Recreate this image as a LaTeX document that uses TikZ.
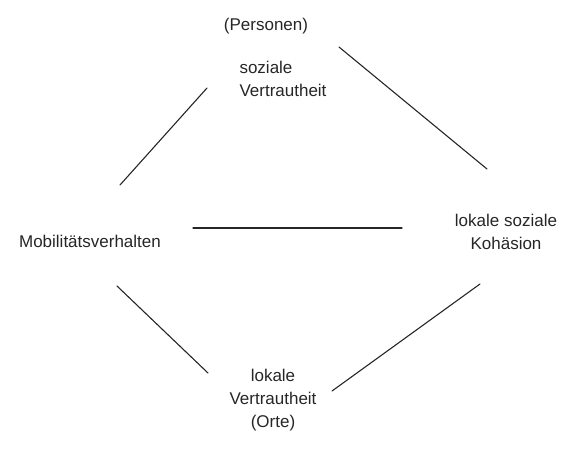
\documentclass[tikz,border=0pt]{standalone}
\usepackage{fontspec}
\setmainfont{Liberation Sans}
\begin{document}
\begin{tikzpicture}[x=1pt,y=-1pt,
  concept/.style={align=center,inner sep=0pt,font=\fontsize{17}{23}\selectfont,text=black!85},
  link/.style={line width=1.1pt,black!85,line cap=round}]
\useasboundingbox (0,0) rectangle (576,448);
% concepts
\node[concept] (pers) at (266,26) {(Personen)};
\node[concept,align=left] (soz) at (283,79) {soziale\\Vertrautheit};
\node[concept] (mob) at (90,241) {Mobilitätsverhalten};
\node[concept] (koh) at (506,232) {lokale soziale\\Kohäsion};
\node[concept] (lok) at (273,400) {lokale\\Vertrautheit\\(Orte)};
% connector end points
\coordinate (a1) at (120,185); \coordinate (a2) at (207,88);
\coordinate (b1) at (339,47);  \coordinate (b2) at (487,169);
\coordinate (c1) at (193,228); \coordinate (c2) at (402,228);
\coordinate (d1) at (117,286); \coordinate (d2) at (208,373);
\coordinate (e1) at (332,391); \coordinate (e2) at (480,284);
% connectors
\draw[link] (a1) -- (a2);
\draw[link] (b1) -- (b2);
\draw[link] (c1) -- (c2);
\draw[link] (d1) -- (d2);
\draw[link] (e1) -- (e2);
\end{tikzpicture}
\end{document}
